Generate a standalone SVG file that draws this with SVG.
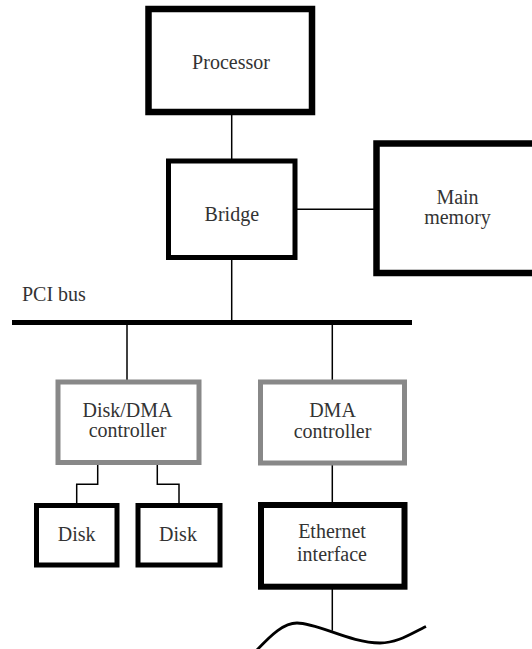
<svg xmlns="http://www.w3.org/2000/svg" width="532" height="649" viewBox="0 0 532 649">
<style>
  .box { fill: #fff; stroke: #000; }
  .gbox { fill: #fff; stroke: #888; stroke-width: 5; }
  .wire { stroke: #000; stroke-width: 1.5; fill: none; }
</style>
<defs>
  <style>
    text { font-family: "Liberation Serif", "DejaVu Serif", "Times New Roman", Times, serif; font-size: 20px; fill: #333; }
  </style>
</defs>
<rect width="532" height="649" fill="#fff"/>
<g id="connectors">
  <line class="wire" x1="231.7" y1="112" x2="231.7" y2="161"/>
  <line class="wire" x1="295" y1="209.3" x2="376.5" y2="209.3"/>
  <line class="wire" x1="231.7" y1="257.5" x2="231.7" y2="322.5"/>
  <line class="wire" x1="127" y1="322.5" x2="127" y2="382"/>
  <line class="wire" x1="332.3" y1="322.5" x2="332.3" y2="382"/>
  <polyline class="wire" points="97.7,462.5 97.7,484.3 76.7,484.3 76.7,505.5"/>
  <polyline class="wire" points="157.3,462.5 157.3,484.3 179,484.3 179,505.5"/>
  <line class="wire" x1="332.3" y1="463" x2="332.3" y2="505"/>
  <line class="wire" x1="332.3" y1="586.7" x2="332.3" y2="630.7"/>
</g>
<g font-family="Liberation Serif, DejaVu Serif, serif" font-size="20" fill="#333" text-anchor="middle">
<g id="pci-bus">
  <line x1="12" y1="322.6" x2="412" y2="322.6" stroke="#000" stroke-width="5"/>
  <text x="22" y="301" text-anchor="start">PCI bus</text>
</g>
<g id="processor">
  <rect class="box" x="148.5" y="9" width="163.5" height="103" stroke-width="6.5"/>
  <text x="231" y="69">Processor</text>
</g>
<g id="bridge">
  <rect class="box" x="168.5" y="161" width="126.5" height="96.5" stroke-width="5"/>
  <text x="231.8" y="221">Bridge</text>
</g>
<g id="main-memory">
  <rect class="box" x="376.5" y="143.5" width="170" height="129.5" stroke-width="6.5"/>
  <text x="457.5" y="204">Main</text>
  <text x="457.5" y="224">memory</text>
</g>
<g id="disk-dma-controller">
  <rect class="gbox" x="58" y="382" width="141" height="80.5"/>
  <text x="127.5" y="416.7">Disk/DMA</text>
  <text x="127.5" y="437">controller</text>
</g>
<g id="dma-controller">
  <rect class="gbox" x="260.5" y="382" width="144" height="81"/>
  <text x="332.5" y="416.7">DMA</text>
  <text x="332.5" y="437.5">controller</text>
</g>
<g id="disk1">
  <rect class="box" x="36.5" y="505.5" width="80.5" height="59.5" stroke-width="5"/>
  <text x="76.7" y="540.7">Disk</text>
</g>
<g id="disk2">
  <rect class="box" x="138" y="505.5" width="82" height="59.5" stroke-width="5"/>
  <text x="178" y="540.7">Disk</text>
</g>
<g id="ethernet-interface">
  <rect class="box" x="261" y="505" width="143.5" height="81.7" stroke-width="6"/>
  <text x="332" y="538.3">Ethernet</text>
  <text x="332" y="561">interface</text>
</g>
</g>
<g id="network">
  <path d="M 256 651 C 272 634, 284 623, 297 623 C 318 623, 350 643, 380 643 C 398 643, 412 633, 426 626.5" fill="none" stroke="#000" stroke-width="2.8"/>
</g>
</svg>
